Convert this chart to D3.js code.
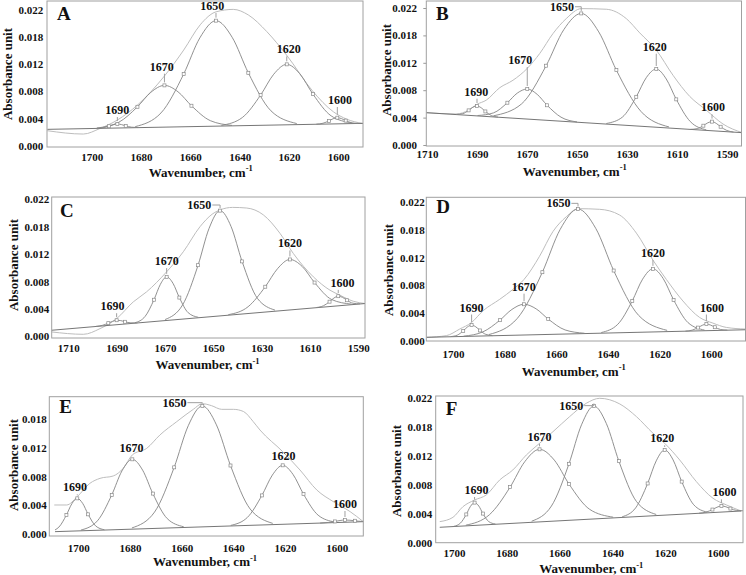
<!DOCTYPE html>
<html><head><meta charset="utf-8">
<script src="https://cdn.jsdelivr.net/npm/d3@7"></script>
<style>
body{margin:0;background:#fff}
svg{display:block}
text{font-family:"Liberation Serif","Times New Roman","DejaVu Serif",serif;font-weight:bold;fill:#111}
</style>
</head><body>
<script>
// ---------- tick labels ----------
const xTicks1700 = [1700,1680,1660,1640,1620,1600];
const xTicks1710 = [1710,1690,1670,1650,1630,1610,1590];
const yTickLabels = ["0.000","0.004","0.008","0.012","0.018","0.022"];
const yTickLabelsE = ["0.000","0.004","0.008","0.012","0.018"];
const bandNames = ["1690","1670","1650","1620","1600"];

// ---------- panel A ----------
const A_env = [[1718,.00243],[1703.4,.00189],[1696.6,.0028],[1689.6,.00416],[1681.4,.0066],[1670.5,.0113],[1662.7,.0155],[1656,.0196],[1649.6,.0217],[1642.6,.0221],[1636.5,.0212],[1629,.0185],[1621,.0147],[1610.5,.0089],[1602,.0055],[1596.6,.0043],[1590,.0036]];
const A_base = [[1718,.00265],[1590,.00362]];
const A_c1690 = [[1698.1,.00281],[1695.4,.00291],[1693.0,.00316],[1691.3,.00339],[1689.6,.00351],[1687.9,.00342],[1686.2,.00321],[1683.8,.003],[1681.1,.00294]];
const A_c1670 = [[1697.9,.00287],[1689.1,.00378],[1681.45,.00631],[1676.0,.00866],[1670.5,.00978],[1665.0,.00874],[1659.55,.00648],[1651.9,.00406],[1643.1,.00329]];
const A_c1650 = [[1682.35,.00309],[1671.9,.00531],[1662.7,.01162],[1656.15,.01748],[1649.6,.02027],[1643.05,.01758],[1636.5,.01182],[1627.3,.00565],[1616.85,.00359]];
const A_c1620 = [[1647.4,.00329],[1638.9,.00457],[1631.5,.00821],[1626.2,.01158],[1620.9,.01319],[1615.6,.01166],[1610.3,.00837],[1602.9,.00484],[1594.4,.00369]];
const A_c1600 = [[1608.9,.00349],[1606.2,.00364],[1603.8,.00402],[1602.1,.00437],[1600.4,.00454],[1598.7,.00439],[1597.0,.00407],[1594.6,.00372],[1591.9,.00361]];

// ---------- panel B ----------
const B_env = [[1710.3,.00519],[1698.3,.00498],[1693.3,.00562],[1690,.00653],[1686.3,.0072],[1680.9,.0092],[1675.6,.0104],[1669.9,.0123],[1664.9,.0147],[1659.6,.0179],[1654.3,.0203],[1648.3,.0219],[1638.3,.0218],[1630.3,.0203],[1624.9,.018],[1618.3,.01525],[1611.6,.0112],[1604.9,.0078],[1598.3,.0056],[1591.6,.00337],[1583.9,.00198]];
const B_base = [[1710.3,.00519],[1584,.00198]];
const B_c1690 = [[1698.4,.00491],[1695.7,.00503],[1693.35,.00556],[1691.7,.00606],[1690.0,.00626],[1688.3,.00597],[1686.65,.00539],[1684.3,.00474],[1681.6,.00448]];
const B_c1670 = [[1689.8,.00473],[1683.4,.00516],[1677.85,.00679],[1673.9,.00833],[1669.9,.00899],[1665.9,.00812],[1661.95,.00638],[1656.4,.00447],[1650.0,.00371]];
const B_c1650 = [[1683.4,.00469],[1672.2,.00659],[1662.35,.01273],[1655.3,.01851],[1648.3,.02113],[1641.3,.01816],[1634.25,.01202],[1624.4,.00538],[1613.2,.0029]];
const B_c1620 = [[1638.3,.00345],[1631.9,.00446],[1626.3,.00774],[1622.3,.01081],[1618.3,.0122],[1614.3,.0106],[1610.3,.00733],[1604.7,.00377],[1598.3,.00243]];
const B_c1600 = [[1604.6,.00251],[1601.9,.00263],[1599.45,.0031],[1597.7,.00356],[1596.0,.00375],[1594.3,.00347],[1592.55,.00293],[1590.1,.00234],[1587.4,.00208]];

// ---------- panel C ----------
const C_env = [[1716.9,.0007],[1703.8,.00032],[1696.9,.00123],[1690,.00284],[1683.1,.00553],[1677.6,.00714],[1669.3,.01036],[1662.4,.01358],[1655.5,.0176],[1650.5,.0196],[1647.2,.0203],[1642,.0207],[1636.2,.0206],[1629.3,.0195],[1622.4,.01653],[1616.9,.01331],[1608.6,.00955],[1601.7,.0074],[1597.6,.0066],[1592.1,.00563],[1587.2,.00526]];
const C_base = [[1716.9,.00097],[1587.2,.00526]];
const C_c1690 = [[1698.6,.00159],[1695.9,.00176],[1693.45,.00211],[1691.7,.0024],[1690,.00258],[1688.3,.00252],[1686.55,.00233],[1684.1,.00216],[1681.4,.00215]];
const C_c1670 = [[1682.4,.00218],[1678.2,.0032],[1674.55,.00587],[1671.9,.00835],[1669.3,.00955],[1666.7,.00852],[1664.05,.00622],[1660.4,.00379],[1656.2,.00305]];
const C_c1650 = [[1669.95,.00269],[1662.7,.00504],[1656.3,.01142],[1651.75,.01733],[1647.2,.02018],[1642.65,.01763],[1638.1,.01203],[1631.7,.00607],[1624.45,.0042]];
const C_c1620 = [[1643.8,.00347],[1635.6,.00475],[1628.5,.00796],[1623.4,.01087],[1618.3,.01234],[1613.2,.01121],[1608.1,.00863],[1601.0,.0059],[1592.8,.00516]];
const C_c1600 = [[1607.3,.00462],[1604.4,.00491],[1601.9,.00556],[1600.1,.00614],[1598.3,.00644],[1596.5,.00625],[1594.7,.00579],[1592.2,.00531],[1589.3,.00521]];

// ---------- panel D ----------
const D_env = [[1710.3,.00063],[1702.6,.00089],[1697.4,.00193],[1692.8,.00297],[1688.4,.0048],[1681.9,.00662],[1676.8,.00818],[1672.5,.00975],[1666.5,.0134],[1661.3,.0173],[1656.1,.01965],[1651.6,.0209],[1643.2,.0208],[1635.5,.0199],[1629,.01705],[1622.6,.0128],[1617.4,.00975],[1611,.00636],[1604.5,.00375],[1599.4,.00287],[1594.2,.00219],[1586.7,.00193]];
const D_base = [[1710.3,.000626],[1586.7,.00182]];
const D_c1690 = [[1700.9,.00074],[1698.3,.00098],[1696.05,.00164],[1694.4,.00226],[1692.8,.00255],[1691.2,.00229],[1689.55,.00171],[1687.3,.00109],[1684.7,.00089]];
const D_c1670 = [[1695.9,.00081],[1688.4,.00149],[1681.85,.00333],[1677.2,.00502],[1672.5,.00584],[1667.8,.00511],[1663.15,.00351],[1656.6,.00179],[1649.1,.00127]];
const D_c1650 = [[1686.1,.00106],[1675.1,.00361],[1665.4,.01089],[1658.5,.01764],[1651.6,.02085],[1644.7,.01777],[1637.8,.01115],[1628.1,.00407],[1617.1,.00172]];
const D_c1620 = [[1642.6,.00138],[1636.2,.00268],[1630.6,.00637],[1626.6,.00979],[1622.6,.01142],[1618.6,.00987],[1614.6,.00653],[1609.0,.00294],[1602.6,.00176]];
const D_c1600 = [[1610.0,.0016],[1607.4,.00176],[1605.15,.00216],[1603.5,.00252],[1601.9,.00271],[1600.3,.00256],[1598.65,.00222],[1596.4,.00186],[1593.8,.00176]];

// ---------- panel E ----------
const E_env = [[1709.3,.00445],[1704.5,.00445],[1700.4,.00573],[1695.5,.00778],[1691.6,.00854],[1686.5,.0089],[1682.6,.01008],[1679.1,.01213],[1673.5,.01315],[1668.4,.0152],[1661.9,.01724],[1655.5,.01913],[1652,.0200],[1648.5,.0197],[1644.5,.01913],[1640,.01913],[1636.1,.0188],[1632.3,.01724],[1629.7,.01596],[1620.9,.01264],[1614.2,.00982],[1607.7,.00675],[1601.3,.00496],[1594.8,.00343],[1589.7,.00189]];
const E_base = [[1709,.00036],[1589.7,.00189]];
const E_c1690 = [[1709.0,.00063],[1707.5,.00106],[1704.6,.00292],[1702.5,.00464],[1700.4,.00547],[1698.3,.00469],[1696.2,.00302],[1693.3,.00124],[1689.9,.00065]];
const E_c1670 = [[1699.0,.0006],[1692.6,.00202],[1687.05,.006],[1683.1,.00969],[1679.1,.01146],[1675.1,.00979],[1671.15,.0062],[1665.6,.00237],[1659.2,.00111]];
const E_c1650 = [[1679.25,.00093],[1670.5,.00336],[1662.9,.01023],[1657.45,.01661],[1652.0,.01965],[1646.55,.01675],[1641.1,.01051],[1633.5,.00384],[1624.75,.00163]];
const E_c1620 = [[1641.0,.00132],[1634.6,.00253],[1628.95,.00592],[1624.9,.00904],[1620.9,.01054],[1616.9,.00914],[1612.85,.00612],[1607.2,.00289],[1600.8,.00184]];
const E_c1600 = [[1606.4,.00168],[1603.3,.00177],[1600.65,.00193],[1598.7,.00207],[1596.8,.00215],[1594.9,.00211],[1592.95,.00203],[1590.3,.00193],[1587.2,.00192]];

// ---------- panel F ----------
const F_env = [[1705.4,.00329],[1700.4,.00394],[1696.6,.00556],[1692.2,.00657],[1687.8,.00733],[1682.7,.00961],[1677.7,.01113],[1672.6,.0134],[1667.6,.01517],[1662.5,.01694],[1656.2,.01922],[1649.9,.02124],[1644.8,.022],[1637.2,.02114],[1630.9,.01922],[1624.6,.01669],[1620.2,.01517],[1614.5,.01264],[1608.2,.00936],[1601.9,.00683],[1596.8,.00582],[1591.2,.0049]];
const F_base = [[1705.4,.00243],[1591.2,.0049]];
const F_c1690 = [[1700.1,.00257],[1697.55,.00307],[1695.35,.00438],[1693.8,.00558],[1692.2,.00617],[1690.6,.00565],[1689.05,.00451],[1686.85,.0033],[1684.3,.00292]];
const F_c1670 = [[1695.5,.00275],[1686.6,.00433],[1678.75,.00852],[1673.2,.01238],[1667.6,.01426],[1662.0,.01262],[1656.45,.009],[1648.6,.00515],[1639.7,.00396]];
const F_c1650 = [[1670.6,.00335],[1663.1,.00565],[1656.45,.01206],[1651.7,.01798],[1647.0,.02083],[1642.3,.01818],[1637.55,.01247],[1630.9,.00635],[1623.4,.00437]];
const F_c1620 = [[1636.3,.00402],[1631.2,.00537],[1626.65,.00908],[1623.4,.01251],[1620.2,.01416],[1617.0,.01265],[1613.75,.00936],[1609.2,.00585],[1604.1,.00472]];
const F_c1600 = [[1607.2,.00456],[1604.5,.00473],[1602.1,.00512],[1600.4,.00547],[1598.7,.00566],[1597.0,.00554],[1595.3,.00527],[1592.9,.00498],[1590.2,.00493]];

// ---------- band label anchors (wavenumber, absorbance of text baseline) ----------
const A_lab = [[1689.6,.00513,"v"],[1671.6,.01216,"v"],[1651.1,.0220,"v"],[1620.1,.01497,"v"],[1599.3,.00676,"v"]];
const B_lab = [[1690.3,.00792,"v"],[1672.7,.0130,"v"],[1656.0,.02156,"h"],[1618.9,.01514,"v"],[1595.6,.0054,"v"]];
const C_lab = [[1691.7,.00419,"v"],[1669.3,.01143,"v"],[1655.8,.02044,"h"],[1618.3,.01427,"v"],[1596.5,.00794,"v"]];
const D_lab = [[1692.8,.00469,"v"],[1672.6,.00798,"v"],[1659.2,.02111,"h"],[1622.6,.01329,"v"],[1599.7,.00469,"v"]];
const E_lab = [[1701.3,.00655,"v"],[1679.4,.01253,"v"],[1662.8,.01954,"h"],[1620.6,.01136,"v"],[1596.8,.00399,"v"]];
const F_lab = [[1691.5,.00748,"v"],[1667.6,.01558,"v"],[1655.6,.02028,"h"],[1621.1,.01532,"v"],[1597.5,.00713,"v"]];

// ---------- layout (pixels) ----------
const panels = [
 {id:"A", env:A_env, base:A_base, comps:[A_c1690,A_c1670,A_c1650,A_c1620,A_c1600], labs:A_lab, xt:xTicks1700, yl:yTickLabels,
  frame:[47,1,363,147], xRef:[1700,91.7,1600,338.3], yRef:[0,145.7,0.022,10], yLabR:43.3, yTick:0, xTickY:157, xTitle:[200.7,172], yTitle:[7.5,74], letter:[57,20]},
 {id:"B", env:B_env, base:B_base, comps:[B_c1690,B_c1670,B_c1650,B_c1620,B_c1600], labs:B_lab, xt:xTicks1710, yl:yTickLabels,
  frame:[426.3,1,741.5,146], xRef:[1710,427,1590,727], yRef:[0,145,0.022,8], yLabR:417, yTick:3, xTickY:154.3, xTitle:[574.7,171], yTitle:[386,70], letter:[436,19.5]},
 {id:"C", env:C_env, base:C_base, comps:[C_c1690,C_c1670,C_c1650,C_c1620,C_c1600], labs:C_lab, xt:xTicks1710, yl:yTickLabels,
  frame:[51.7,197,365,338], xRef:[1710,68.3,1590,358.3], yRef:[0,336.3,0.022,199.3], yLabR:49.3, yTick:0, xTickY:347.7, xTitle:[207.5,364.3], yTitle:[13,265], letter:[60,216.7]},
 {id:"D", env:D_env, base:D_base, comps:[D_c1690,D_c1670,D_c1650,D_c1620,D_c1600], labs:D_lab, xt:xTicks1700, yl:yTickLabels,
  frame:[426.3,197.3,745.5,341], xRef:[1700,453,1600,711.3], yRef:[0,341.3,0.022,201.7], yLabR:424.7, yTick:0, xTickY:354.5, xTitle:[573.7,371], yTitle:[388,270], letter:[436.3,213.3]},
 {id:"E", env:E_env, base:E_base, comps:[E_c1690,E_c1670,E_c1650,E_c1620,E_c1600], labs:E_lab, xt:xTicks1700, yl:yTickLabelsE,
  frame:[49.3,396.7,363.3,536], xRef:[1700,78.3,1600,336.7], yRef:[0,534,0.0176,419.3], yLabR:46.7, yTick:0, xTickY:548.3, xTitle:[205,561.7], yTitle:[13,465], letter:[59.3,413.3]},
 {id:"F", env:F_env, base:F_base, comps:[F_c1690,F_c1670,F_c1650,F_c1620,F_c1600], labs:F_lab, xt:xTicks1700, yl:yTickLabels,
  frame:[435.7,396,743,542.7], xRef:[1700,454,1600,718], yRef:[0,543.3,0.022,398.3], yLabR:432.3, yTick:0, xTickY:553.3, xTitle:[591.3,568.3], yTitle:[396,471], letter:[445.7,415]}
];

const FONT = '"Liberation Serif","Times New Roman","DejaVu Serif",serif';
const svg = d3.select("body").append("svg").attr("width",746).attr("height",575);
const defs = svg.append("defs");

panels.forEach((p,i)=>{
  const [fx0,fy0,fx1,fy1] = p.frame;
  const x = d3.scaleLinear().domain([p.xRef[0],p.xRef[2]]).range([p.xRef[1],p.xRef[3]]);
  const y = d3.scaleLinear().domain([p.yRef[0],p.yRef[2]]).range([p.yRef[1],p.yRef[3]]);
  const g = svg.append("g");

  defs.append("clipPath").attr("id","clip"+i).append("rect")
    .attr("x",fx0).attr("y",fy0).attr("width",fx1-fx0).attr("height",fy1-fy0);
  const plot = g.append("g").attr("clip-path","url(#clip"+i+")");

  const line = d3.line().x(d=>x(d[0])).y(d=>y(d[1])).curve(d3.curveMonotoneX);

  plot.append("path").datum(p.env).attr("d",line).attr("fill","none").attr("stroke","#bdbdbd").attr("stroke-width",1);
  plot.append("path").datum(p.base).attr("d",d3.line().x(d=>x(d[0])).y(d=>y(d[1]))).attr("fill","none").attr("stroke","#666").attr("stroke-width",0.9);
  p.comps.forEach(c=>{
    plot.append("path").datum(c).attr("d",line).attr("fill","none").attr("stroke","#858585").attr("stroke-width",0.9);
  });
  // markers: half-height points and peak of every band
  p.comps.forEach(c=>{
    plot.selectAll(null).data([c[2],c[4],c[6]]).enter().append("rect")
      .attr("x",d=>x(d[0])-1.5).attr("y",d=>y(d[1])-1.5).attr("width",3).attr("height",3)
      .attr("fill","#fff").attr("stroke","#8a8a8a").attr("stroke-width",0.7);
  });

  // band labels with leader lines
  p.labs.forEach((l,k)=>{
    const pk = p.comps[k][4];
    const t = g.append("text").attr("x",x(l[0])).attr("y",y(l[1])).attr("text-anchor","middle")
      .attr("font-size",12).text(bandNames[k]);
    const px = x(pk[0]), py = y(pk[1]);
    if(l[2]==="v"){
      const ya = y(l[1])+3, yb = py-3;
      if(yb-ya>1) g.append("line").attr("x1",px).attr("x2",px).attr("y1",ya).attr("y2",yb)
        .attr("stroke","#a0a0a0").attr("stroke-width",1);
    } else {
      const w = t.node().getComputedTextLength();
      const xs = x(l[0])+w/2+1, yh = y(l[1])-4;
      g.append("path").attr("d",`M${xs},${yh}H${px}V${py-2.5}`).attr("fill","none")
        .attr("stroke","#a0a0a0").attr("stroke-width",1);
    }
  });

  // frame
  g.append("rect").attr("x",fx0).attr("y",fy0).attr("width",fx1-fx0).attr("height",fy1-fy0)
    .attr("fill","none").attr("stroke","#a0a0a0").attr("stroke-width",1);

  // y axis
  const yAxis = d3.axisLeft(y).tickValues(p.yl.map((_,k)=>k*0.0044))
    .tickFormat((d,k)=>p.yl[k]).tickSize(p.yTick).tickPadding(fx0-p.yLabR-p.yTick);
  const ya = g.append("g").attr("transform",`translate(${fx0},0)`).call(yAxis);
  ya.select(".domain").remove();
  ya.selectAll("line").attr("stroke","#999");
  ya.selectAll("text").attr("font-size",11).style("font-family",FONT).attr("fill","#111");

  // x axis
  const xAxis = d3.axisBottom(x).tickValues(p.xt).tickFormat(d3.format("d")).tickSize(0);
  const xa = g.append("g").attr("transform",`translate(0,${fy1})`).call(xAxis);
  xa.select(".domain").remove();
  xa.selectAll("text").attr("y",p.xTickY-fy1).attr("dy","0.35em").attr("font-size",11)
    .style("font-family",FONT).attr("fill","#111");

  // titles
  const xt = g.append("text").attr("x",p.xTitle[0]).attr("y",p.xTitle[1]).attr("dy","0.35em")
    .attr("text-anchor","middle").attr("font-size",13);
  xt.append("tspan").text("Wavenumber, cm");
  xt.append("tspan").attr("font-size",8.5).attr("dy","-0.6em").text("-1");
  g.append("text").attr("transform",`translate(${p.yTitle[0]},${p.yTitle[1]}) rotate(-90)`)
    .attr("dy","0.35em").attr("text-anchor","middle").attr("font-size",13).text("Absorbance unit");
  g.append("text").attr("x",p.letter[0]).attr("y",p.letter[1]).attr("font-size",19).text(p.id);
});
</script>
</body></html>
